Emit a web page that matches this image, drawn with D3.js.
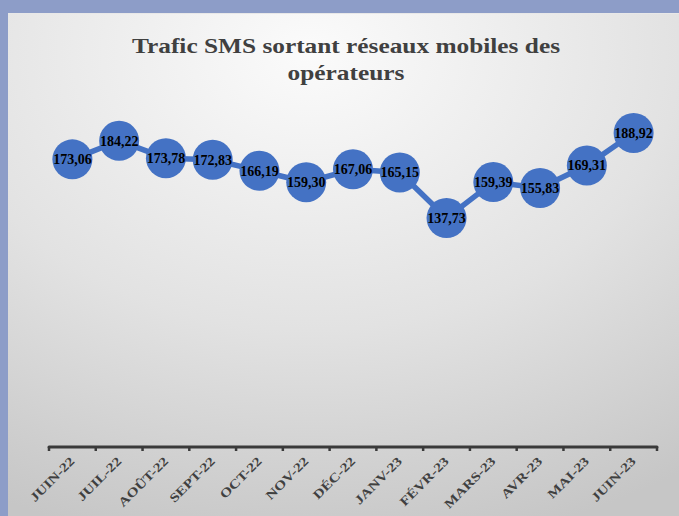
<!DOCTYPE html>
<html><head><meta charset="utf-8">
<script src="https://cdn.jsdelivr.net/npm/d3@7"></script>
<style>html,body{margin:0;padding:0;background:#8d9dc8;}svg{display:block;}</style>
</head><body>
<script>
const categories = ["JUIN-22","JUIL-22","AOÛT-22","SEPT-22","OCT-22","NOV-22","DÉC-22","JANV-23","FÉVR-23","MARS-23","AVR-23","MAI-23","JUIN-23"];
const values = [173.06,184.22,173.78,172.83,166.19,159.30,167.06,165.15,137.73,159.39,155.83,169.31,188.92];
const titleLines = ["Trafic SMS sortant réseaux mobiles des","opérateurs"];
const yDomain = [0, 200];

const W = 679, H = 516;
const svg = d3.select("body").append("svg").attr("width", W).attr("height", H);
const defs = svg.append("defs");
const grad = defs.append("radialGradient").attr("id","bg").attr("cx","45%").attr("cy","8%").attr("r","100%");
grad.append("stop").attr("offset","0%").attr("stop-color","#fbfbfb");
grad.append("stop").attr("offset","55%").attr("stop-color","#e2e2e2");
grad.append("stop").attr("offset","100%").attr("stop-color","#c6c6c6");

svg.append("rect").attr("width",W).attr("height",H).attr("fill","#8d9dc8");
svg.append("rect").attr("x",8).attr("y",13).attr("width",W-8).attr("height",H-13).attr("fill","url(#bg)");
svg.append("line").attr("x1",8).attr("x2",W).attr("y1",13.5).attr("y2",13.5).attr("stroke","#e8e8e8").attr("stroke-width",1);

const title = svg.append("text").attr("text-anchor","middle")
  .attr("font-family","'Liberation Serif','Times New Roman',serif").attr("font-weight","bold")
  .attr("font-size",22).attr("fill","#404040");
const titleWidths = [428, 117];
titleLines.forEach((t,i)=>title.append("tspan").attr("x",346).attr("y",53+i*27)
  .attr("textLength",titleWidths[i]).attr("lengthAdjust","spacingAndGlyphs").text(t));

const x = d3.scaleBand().domain(categories).range([49,657]).padding(0);
const y = d3.scaleLinear().domain(yDomain).range([447, 447-314/188.92*200]);

// axis
const axisG = svg.append("g").attr("transform","translate(0,447)");
const axis = d3.axisBottom(x).tickSize(0).tickFormat("");
axisG.call(axis);
axisG.select(".domain").remove();
axisG.append("line").attr("x1",49).attr("x2",657).attr("y1",0).attr("y2",0)
  .attr("stroke","#3a3a3a").attr("stroke-width",3).attr("stroke-linecap","round");
const bounds = categories.map(c=>x(c)).concat([x(categories[categories.length-1])+x.bandwidth()]);
axisG.selectAll("line.tk").data(bounds).enter().append("line").attr("class","tk")
  .attr("x1",d=>d).attr("x2",d=>d).attr("y1",0).attr("y2",4)
  .attr("stroke","#3a3a3a").attr("stroke-width",2.5);

svg.append("g").selectAll("text").data(categories).enter().append("text")
  .attr("transform",d=>`translate(${x(d)+x.bandwidth()/2+3},462) rotate(-45) scale(1.25,1)`)
  .attr("text-anchor","end")
  .attr("font-family","'Liberation Serif','Times New Roman',serif").attr("font-weight","bold")
  .attr("font-size",12.5).attr("fill","#404040")
  .text(d=>d);

const cx = d=>x(d)+x.bandwidth()/2;
const line = d3.line().x((d,i)=>cx(categories[i])).y(d=>y(d));
svg.append("path").datum(values).attr("d",line).attr("fill","none")
  .attr("stroke","#4472c4").attr("stroke-width",5.5).attr("stroke-linejoin","round");

svg.append("g").selectAll("circle").data(values).enter().append("circle")
  .attr("cx",(d,i)=>cx(categories[i])).attr("cy",d=>y(d)).attr("r",20)
  .attr("fill","#4472c4");

svg.append("g").selectAll("text").data(values).enter().append("text")
  .attr("x",(d,i)=>cx(categories[i])).attr("y",d=>y(d)).attr("dy","0.35em")
  .attr("text-anchor","middle")
  .attr("font-family","'Liberation Serif','Times New Roman',serif").attr("font-weight","bold")
  .attr("font-size",14).attr("fill","#000")
  .text(d=>d.toFixed(2).replace(".",","));
</script>
</body></html>
